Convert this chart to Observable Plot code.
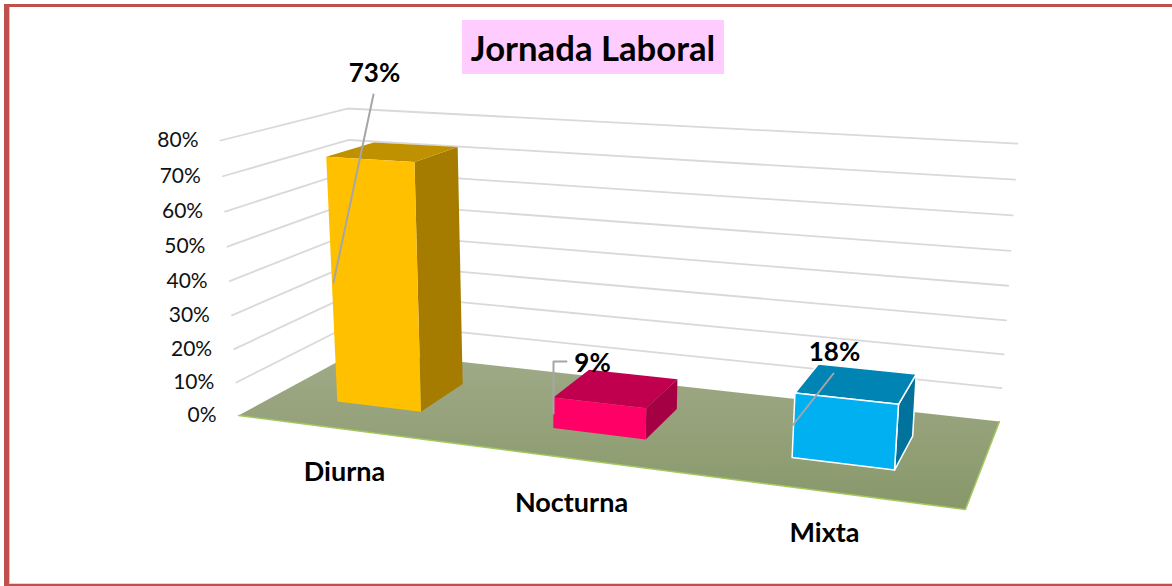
<!DOCTYPE html>
<html>
<head>
<meta charset="utf-8">
<script src="https://cdn.jsdelivr.net/npm/d3@7"></script>
<script src="https://cdn.jsdelivr.net/npm/@observablehq/plot@0.6"></script>
<style>
  html, body { margin: 0; padding: 0; background: #fff; }
  body { width: 1172px; height: 586px; overflow: hidden; position: relative; font-family: Lato, "Open Sans", sans-serif; }
  #frame { position: absolute; left: 4px; top: 4px; right: 0; bottom: 0; box-sizing: border-box;
           border-left: 5px solid #c0504d; border-top: 3px solid #c0504d; border-bottom: 2px solid #c0504d; pointer-events: none; }
  #frame::after { content: ""; position: absolute; left: 0; right: 0; top: 0; bottom: 0; border-left: 1px solid #f4b8b6; border-bottom: 1px solid #f0d0ce; }
  #title { position: absolute; left: 462px; top: 20px; width: 262px; height: 54px; text-align: center;
           background: #ffccff; color: #000; font: 700 34.7px/56px Lato, sans-serif; white-space: nowrap; }
  svg { display: block; }
</style>
</head>
<body>
<div id="chart"></div>
<div id="title">Jornada Laboral</div>
<div id="frame"></div>
<script>
// ---- data ----
const categories = ["Diurna", "Nocturna", "Mixta"];
const values = [73, 9, 18];
const valueLabels = ["73%", "9%", "18%"];
const ticks = [0, 10, 20, 30, 40, 50, 60, 70, 80];
const frontColors = ["#ffc000", "#ff0066", "#00b0f0"];
const topColors = ["#bf9000", "#c0004f", "#0084b4"];
const sideColors = ["#a67c00", "#a50043", "#00729c"];

// ---- 3D camera: (u along categories, d depth, v value) to page pixels ----
const vMax = 80;
function floorXY(u, d) {
  const w = -0.1468 * u + 0.14195 * d + 1;
  return [(585.3 * u + 170.8 * d + 238) / w, (19.3 * u - 15.3 * d + 415) / w];
}
function project(u, d, v) {
  const [x, y] = floorXY(u, d);
  const mix = (a, b, c, e) => (1 - d) * ((1 - u) * a + u * b) + d * ((1 - u) * c + u * e);
  const r = v / vMax;
  const k = r * (0.954 + 0.046 * r); // vertical foreshortening
  return [x + k * mix(-18, 24, -11, 18), y + k * mix(-275, -320, -242, -278)];
}
const slot = i => (i + 0.492) / categories.length;
const barW = 0.133, d0 = 0.30, d1 = 0.70;

const poly = (pts, extra) => pts.map(([u, d, v]) => {
  const [px, py] = project(u, d, v);
  return {px, py, ...extra};
});

const floorPts = poly([[0,0,0],[1,0,0],[1,1,0],[0,1,0],[0,0,0]], {});
const edgePts = poly([[0,0,0],[1,0,0],[1,1,0]], {});
const gridRows = ticks.filter(t => t > 0).flatMap(t => poly([[0,0,t],[0,1,t],[1,1,t]], {t}));

const faces = values.flatMap((v, i) => {
  const a = slot(i) - barW / 2, b = slot(i) + barW / 2;
  const edge = i === 2 ? "#fff" : "none";
  return [
    poly([[b,d0,0],[b,d1,0],[b,d1,v],[b,d0,v],[b,d0,0]], {face: i + "side", color: sideColors[i], edge}),
    poly([[a,d0,v],[b,d0,v],[b,d1,v],[a,d1,v],[a,d0,v]], {face: i + "top", color: topColors[i], edge}),
    poly([[a,d0,0],[b,d0,0],[b,d0,v],[a,d0,v],[a,d0,0]], {face: i + "front", color: frontColors[i], edge})
  ].flat();
});

const tickRows = ticks.map(t => { const [px, py] = project(0, 0, t); return {px: px - 22, py, label: t + "%"}; });

// label layout: page-pixel placement of the manually moved data labels
const catPlace = [[344, 472], [571, 503], [824, 533]];
const valPlace = [[374, 73], [592, 363], [834, 352]];
const leaders = [
  [[373, 94], [333, 282]],
  [[566, 361], [553, 361], [553, 413]],
  [[833, 373], [792, 425]]
];
const catRows = categories.map((c, i) => ({label: c, px: catPlace[i][0], py: catPlace[i][1]}));
const valRows = valueLabels.map((c, i) => ({label: c, px: valPlace[i][0], py: valPlace[i][1]}));
const leaderRows = leaders.flatMap((l, i) => l.map(([px, py]) => ({px, py, i})));

const defs = () => {
  const s = d3.create("svg:defs");
  const g = s.append("linearGradient").attr("id", "floorGrad").attr("x1", 0).attr("y1", 0).attr("x2", 0).attr("y2", 1);
  g.append("stop").attr("offset", "0%").attr("stop-color", "#a0aa88");
  g.append("stop").attr("offset", "100%").attr("stop-color", "#88986a");
  return s.node();
};

const chart = Plot.plot({
  width: 1172, height: 586,
  margin: 0,
  style: {background: "transparent", overflow: "visible"},
  x: {type: "linear", domain: [0, 1172], range: [0, 1172], axis: null},
  y: {type: "linear", domain: [0, 586], range: [0, 586], axis: null},
  color: {type: "identity"},
  marks: [
    defs,
    Plot.line(gridRows, {x: "px", y: "py", z: "t", stroke: "#d9d9d9", strokeWidth: 1.8, curve: "linear"}),
    Plot.line(floorPts, {x: "px", y: "py", fill: "url(#floorGrad)", stroke: "none", curve: "linear"}),
    Plot.line(edgePts, {x: "px", y: "py", stroke: "#a4c860", strokeWidth: 1.5, curve: "linear"}),
    Plot.line(faces, {x: "px", y: "py", z: "face", fill: "color", stroke: "edge", strokeWidth: 1.5, strokeLinejoin: "round", curve: "linear"}),
    Plot.line(leaderRows, {x: "px", y: "py", z: "i", stroke: "#a6a6a6", strokeWidth: 2, curve: "linear"}),
    Plot.text(tickRows, {x: "px", y: "py", text: "label", textAnchor: "end", fontSize: 21, fontFamily: "Lato, sans-serif", fill: "#111"}),
    Plot.text(catRows, {x: "px", y: "py", text: "label", fontSize: 27, fontWeight: 700, fontFamily: "Lato, sans-serif", fill: "#000"}),
    Plot.text(valRows, {x: "px", y: "py", text: "label", fontSize: 26, fontWeight: 700, fontFamily: "Lato, sans-serif", fill: "#000"})
  ]
});
document.getElementById("chart").append(chart);
</script>
</body>
</html>
